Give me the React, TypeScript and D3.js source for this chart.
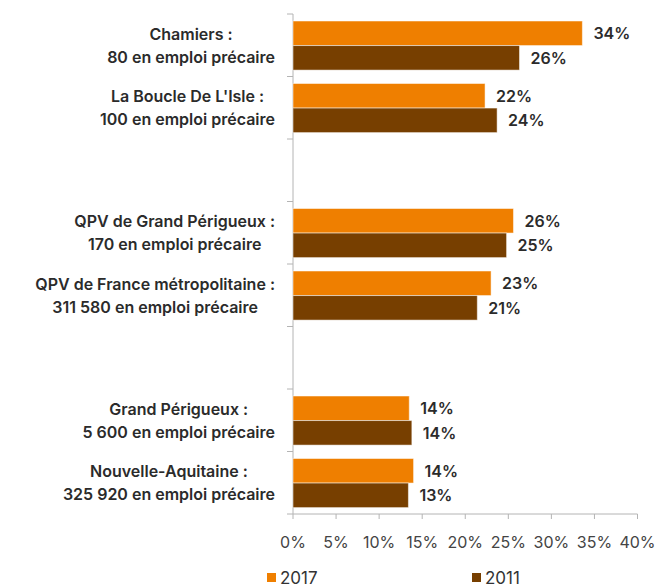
import React, { useEffect, useRef } from 'react'
import * as d3 from 'd3'

// categories (empty strings are spacer rows)
const categories = [
  ['Chamiers :', '80 en emploi précaire'],
  ['La Boucle De L\'Isle :', '100 en emploi précaire'],
  [],
  ['QPV de Grand Périgueux :', '170 en emploi précaire'],
  ['QPV de France métropolitaine :', '311 580 en emploi précaire'],
  [],
  ['Grand Périgueux :', '5 600 en emploi précaire'],
  ['Nouvelle-Aquitaine :', '325 920 en emploi précaire'],
]
const values2017 = [33.6, 22.3, null, 25.6, 23.0, null, 13.5, 14.0]
const values2011 = [26.3, 23.7, null, 24.8, 21.4, null, 13.8, 13.4]
const xTicks = [0, 5, 10, 15, 20, 25, 30, 35, 40]
const seriesNames = ['2017', '2011']

const C2017 = '#ef7f00'
const C2011 = '#773f00'
const FONT = 'Inter, sans-serif'

export default function App() {
  const svgRef = useRef<SVGSVGElement>(null)

  useEffect(() => {
    const left = 293, right = 637.5, top = 14, bottom = 514
    const svg = d3.select(svgRef.current)
    svg.selectAll('*').remove()

    const x = d3.scaleLinear().domain([0, 40]).range([left, right])
    const y = d3.scaleBand<number>().domain(d3.range(categories.length)).range([top, bottom])
    const inner = d3.scaleBand<number>().domain([0, 1]).range([7, y.bandwidth() - 6.4])

    // axes
    svg.append('line').attr('x1', left).attr('x2', left).attr('y1', top).attr('y2', bottom)
      .attr('stroke', '#b4b4b4')
    svg.append('line').attr('x1', left).attr('x2', right).attr('y1', bottom).attr('y2', bottom)
      .attr('stroke', '#b4b4b4')
    d3.range(categories.length + 1).forEach(i => {
      const yy = top + i * y.bandwidth()
      svg.append('line').attr('x1', left - 6).attr('x2', left).attr('y1', yy).attr('y2', yy)
        .attr('stroke', '#b4b4b4')
    })
    xTicks.forEach(t => {
      svg.append('line').attr('x1', x(t)).attr('x2', x(t)).attr('y1', bottom).attr('y2', bottom + 5)
        .attr('stroke', '#b4b4b4')
      svg.append('text').attr('x', x(t)).attr('y', 548).attr('text-anchor', 'middle')
        .attr('font-family', FONT).attr('font-size', 16).attr('fill', '#444')
        .text(`${t}%`)
    })

    // bars
    const series = [values2017, values2011]
    const colors = [C2017, C2011]
    series.forEach((vals, s) => {
      vals.forEach((v, i) => {
        if (v == null) return
        const yy = (y(i) as number) + (inner(s) as number)
        svg.append('rect').attr('x', x(0)).attr('y', yy)
          .attr('width', x(v) - x(0)).attr('height', inner.bandwidth())
          .attr('fill', colors[s]).attr('stroke', '#fff').attr('stroke-opacity', 0.5).attr('stroke-width', 1)
        svg.append('text').attr('x', x(v) + 11).attr('y', yy + inner.bandwidth() / 2)
          .attr('dy', '0.36em').attr('font-family', FONT).attr('font-size', 16)
          .attr('font-weight', 600).attr('fill', '#2b2b2b')
          .text(`${Math.round(v)}%`)
      })
    })

    // category labels: block right-aligned, lines centred
    categories.forEach((lines, i) => {
      if (!lines.length) return
      const cy = (y(i) as number) + y.bandwidth() / 2
      const texts = lines.map((l, k) =>
        svg.append('text').attr('y', cy + (k - 0.5) * 23).attr('dy', '0.36em')
          .attr('text-anchor', 'middle').attr('font-family', FONT).attr('font-size', 16)
          .attr('font-weight', 600).attr('fill', '#2b2b2b').text(l))
      const maxW = d3.max(texts, t => (t.node() as SVGTextElement).getComputedTextLength()) || 0
      texts.forEach(t => t.attr('x', 275 - maxW / 2))
    })

    // legend
    const legX = [267, 472]
    seriesNames.forEach((n, s) => {
      svg.append('rect').attr('x', legX[s]).attr('y', 573).attr('width', 9).attr('height', 9)
        .attr('fill', colors[s])
      svg.append('text').attr('x', legX[s] + 13).attr('y', 583.5).attr('font-family', FONT)
        .attr('font-size', 17).attr('fill', '#333').text(n)
    })
  }, [])

  return (
    <svg ref={svgRef} width={656} height={586}
      style={{ position: 'absolute', left: 0, top: 0, background: '#fff' }} />
  )
}
